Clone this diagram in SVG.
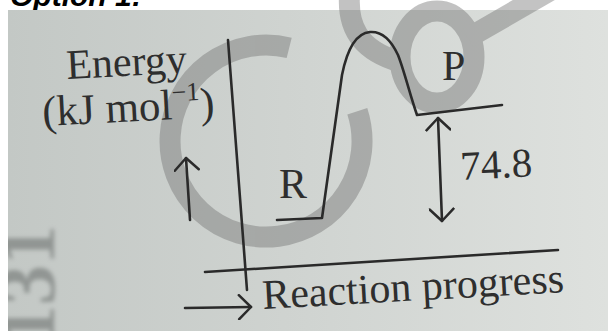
<svg xmlns="http://www.w3.org/2000/svg" width="608" height="331" viewBox="0 0 608 331">
  <defs>
    <linearGradient id="bg" x1="0" y1="0" x2="1" y2="0">
      <stop offset="0" stop-color="#c3c8c5"/>
      <stop offset="0.5" stop-color="#d0d4d1"/>
      <stop offset="1" stop-color="#dee1de"/>
    </linearGradient>
    <clipPath id="photo"><rect x="8" y="10" width="600" height="321"/></clipPath>
    <filter id="soft" x="-20%" y="-20%" width="140%" height="140%"><feGaussianBlur stdDeviation="2"/></filter>
    <marker id="head" markerUnits="userSpaceOnUse" markerWidth="26" markerHeight="26" viewBox="0 0 26 26" refX="24" refY="13" orient="auto-start-reverse">
      <path d="M12,1 L24,13 L12,25" fill="none" stroke="#2a2a2a" stroke-width="2.5" stroke-linecap="round" stroke-linejoin="round"/>
    </marker>
    <style>
      .ln { fill: none; stroke: #2a2a2a; stroke-width: 2.6; stroke-linecap: round; stroke-linejoin: round; }
      .t { font-family: "Liberation Serif", "Times New Roman", serif; fill: #2e2e2e; }
      .wm { fill: none; stroke: #707070; stroke-width: 21; }
    </style>
  </defs>

  <rect x="0" y="0" width="608" height="331" fill="#ffffff"/>
  <text x="10" y="6" font-family="Liberation Sans, Arial, sans-serif" font-size="30" font-weight="bold" font-style="italic" fill="#000">Option 1:</text>
  <rect id="photo-bg" x="8" y="10" width="600" height="321" fill="url(#bg)"/>

  <g clip-path="url(#photo)">
    <text transform="translate(54,345) rotate(-90)" font-family="Liberation Serif, serif" font-size="80" font-weight="bold" fill="#7c807e" filter="url(#soft)" opacity="0.7">131</text>
  </g>

  <g id="watermark" opacity="0.42">
    <path class="wm" d="M357.3,111.3 A96,96 0 1 1 289.2,47.9"/>
    <ellipse class="wm" cx="437" cy="57" rx="37" ry="46"/>
    <path class="wm" d="M350,-10 C346,25 358,50 400,62"/>
    <path class="wm" d="M468,38 L565,-18"/>
  </g>

  <g id="connectors">
    <line id="y-axis" class="ln" x1="228" y1="40" x2="247" y2="290"/>
    <line id="x-axis" class="ln" x1="205" y1="272" x2="558" y2="250"/>
    <line id="x-arrow" class="ln" x1="185" y1="308" x2="251" y2="307" marker-end="url(#head)"/>
    <line id="y-arrow" class="ln" x1="190" y1="220" x2="186" y2="158" marker-end="url(#head)"/>
    <line id="delta-arrow" class="ln" x1="442" y1="221" x2="438" y2="118" marker-start="url(#head)" marker-end="url(#head)"/>
  </g>

  <g id="profile">
    <path class="ln" d="M277,220 L322,218 L342,75 C348,45 358,33 370,32 C383,31 392,42 398,55 C404,70 410,95 417,115 L502,105"/>
  </g>

  <g id="label-energy">
    <text class="t" x="67" y="79" font-size="42" transform="rotate(-3 67 79)">Energy</text>
    <text class="t" x="43" y="126" font-size="43" transform="rotate(-3 43 126)">(kJ mol<tspan font-size="26" dy="-18">−1</tspan><tspan dy="18">)</tspan></text>
  </g>
  <g id="node-R"><text class="t" x="279" y="198" font-size="42">R</text></g>
  <g id="node-P"><text class="t" x="442" y="80" font-size="42">P</text></g>
  <g id="label-delta"><text class="t" x="461" y="180" font-size="41" transform="rotate(-3 461 180)">74.8</text></g>
  <g id="label-x"><text class="t" x="263" y="309" font-size="42" transform="rotate(-3.2 263 309)">Reaction progress</text></g>
</svg>
